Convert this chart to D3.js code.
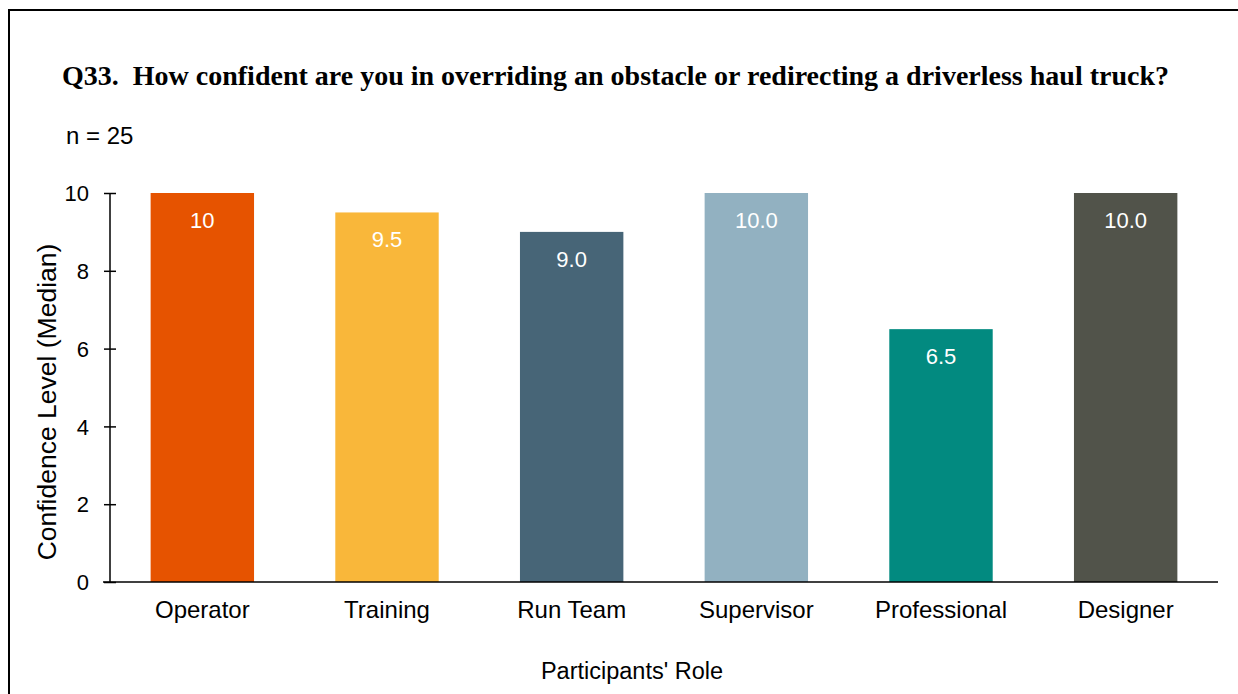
<!DOCTYPE html>
<html>
<head>
<meta charset="utf-8">
<script src="https://cdn.jsdelivr.net/npm/d3@7"></script>
<style>
  html, body { margin: 0; padding: 0; background: #fff; }
  svg { display: block; }
  text { font-family: "Liberation Sans", Arial, sans-serif; }
</style>
</head>
<body>
<script>
// Median confidence by participant role
const roles = ["Operator", "Training", "Run Team", "Supervisor", "Professional", "Designer"];
const medians = [10, 9.5, 9.0, 10.0, 6.5, 10.0];
const valueLabels = ["10", "9.5", "9.0", "10.0", "6.5", "10.0"];
const barColors = ["#E65300", "#F9B73A", "#476577", "#92B1C1", "#028A80", "#51534A"];
const yTicks = [0, 2, 4, 6, 8, 10];

const W = 1238, H = 694;
const svg = d3.select("body").append("svg").attr("width", W).attr("height", H);

// outer frame
svg.append("rect")
  .attr("x", 9).attr("y", 10).attr("width", W + 20).attr("height", H + 20)
  .attr("fill", "none").attr("stroke", "#000").attr("stroke-width", 2);

const plot = { left: 110, right: 1218, top: 193, bottom: 582 };

const x = d3.scaleBand().domain(roles).range([plot.left, plot.right]).paddingInner(0.44).paddingOuter(0.22);
const y = d3.scaleLinear().domain([0, 10]).range([plot.bottom, plot.top]);

// title and sample size
svg.append("text")
  .attr("x", 62).attr("y", 85)
  .attr("xml:space", "preserve")
  .style("white-space", "pre")
  .style("font-family", "'Liberation Serif', 'Times New Roman', serif")
  .style("font-weight", "bold").style("font-size", "28px")
  .text("Q33.  How confident are you in overriding an obstacle or redirecting a driverless haul truck?");

svg.append("text")
  .attr("x", 66).attr("y", 144)
  .style("font-size", "24px")
  .text("n = 25");

// bars
const data = roles.map((r, i) => ({ role: r, v: medians[i], label: valueLabels[i], color: barColors[i] }));

svg.selectAll("rect.bar").data(data).enter().append("rect")
  .attr("class", "bar")
  .attr("x", d => x(d.role))
  .attr("width", x.bandwidth())
  .attr("y", d => y(d.v))
  .attr("height", d => y(0) - y(d.v))
  .attr("fill", d => d.color);

svg.selectAll("text.val").data(data).enter().append("text")
  .attr("class", "val")
  .attr("x", d => x(d.role) + x.bandwidth() / 2)
  .attr("y", d => y(d.v) + 35)
  .attr("text-anchor", "middle")
  .attr("fill", "#fff")
  .style("font-size", "22px")
  .text(d => d.label);

// y axis
const yAxis = d3.axisLeft(y).tickValues(yTicks).tickSize(0).tickFormat(d3.format("d"));
const gy = svg.append("g").attr("transform", `translate(${plot.left},0)`).call(yAxis);
gy.select(".domain").remove();
gy.append("line").attr("x1", 0).attr("x2", 0).attr("y1", y(10)).attr("y2", y(0))
  .attr("stroke", "#000").attr("stroke-width", 1.5);
gy.selectAll(".tick").append("line")
  .attr("x1", -6).attr("x2", 6).attr("stroke", "#000").attr("stroke-width", 1.5);
gy.selectAll(".tick text")
  .attr("x", -21).attr("dy", "0.35em")
  .style("font-size", "22px").style("font-family", "'Liberation Sans', Arial, sans-serif")
  .attr("fill", "#000");

// x axis
svg.append("line")
  .attr("x1", 103).attr("x2", plot.right).attr("y1", y(0)).attr("y2", y(0))
  .attr("stroke", "#000").attr("stroke-width", 1.5);

const xAxis = d3.axisBottom(x).tickSize(0);
const gx = svg.append("g").attr("transform", `translate(0,${plot.bottom})`).call(xAxis);
gx.select(".domain").remove();
gx.selectAll(".tick text")
  .attr("y", 36).attr("dy", "0")
  .style("font-size", "24px").style("font-family", "'Liberation Sans', Arial, sans-serif")
  .attr("fill", "#000");

// axis titles
svg.append("text")
  .attr("x", 632).attr("y", 679)
  .attr("text-anchor", "middle")
  .style("font-size", "23.5px")
  .text("Participants' Role");

svg.append("text")
  .attr("transform", "translate(56,402) rotate(-90)")
  .attr("text-anchor", "middle")
  .style("font-size", "26.5px")
  .text("Confidence Level (Median)");
</script>
</body>
</html>
